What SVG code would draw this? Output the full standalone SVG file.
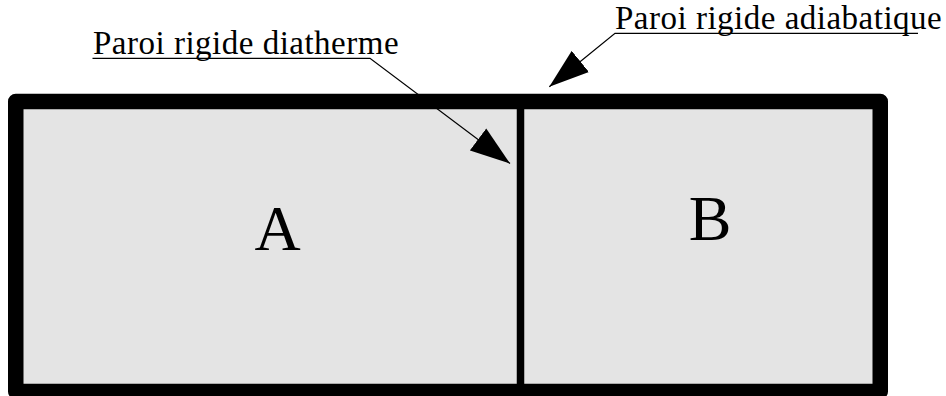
<svg xmlns="http://www.w3.org/2000/svg" width="946" height="396" viewBox="0 0 946 396">
<style>
.big{font-family:"Liberation Serif",serif;font-size:64px;text-anchor:middle;fill:#000}
.lbl{font-family:"Liberation Serif",serif;font-size:33px;letter-spacing:0.5px;fill:#000}
.lead{fill:none;stroke:#000;stroke-width:1.3;marker-end:url(#ah)}
</style>
<defs>
<marker id="ah" markerUnits="userSpaceOnUse" markerWidth="40" markerHeight="28" viewBox="0 -13 38 26" refX="38" refY="0" orient="auto">
<path d="M0,-13 L38,0 L0,13 z" fill="#000"/>
</marker>
</defs>
<rect width="946" height="396" fill="#fff"/>
<g id="enceinte">
<path d="M15.75,101.5 H880.25 V391.5 H15.75 Z" fill="#e4e4e4" stroke="#000" stroke-width="15.5" stroke-linejoin="round"/>
</g>
<g id="paroi-diatherme">
<line x1="520.5" y1="109" x2="520.5" y2="384" stroke="#000" stroke-width="7.5"/>
</g>
<g id="A"><text class="big" x="277.5" y="250">A</text></g>
<g id="B"><text class="big" x="710" y="240">B</text></g>
<g id="label-diatherme"><text class="lbl" x="93" y="54">Paroi rigide diatherme</text></g>
<g id="label-adiabatique"><text class="lbl" x="615" y="29">Paroi rigide adiabatique</text></g>
<g id="connectors">
<polyline class="lead" points="92.5,58.3 370,58.3 510,163.5"/>
<polyline class="lead" points="918,33.3 615,33.3 549.3,86.7"/>
</g>
</svg>
